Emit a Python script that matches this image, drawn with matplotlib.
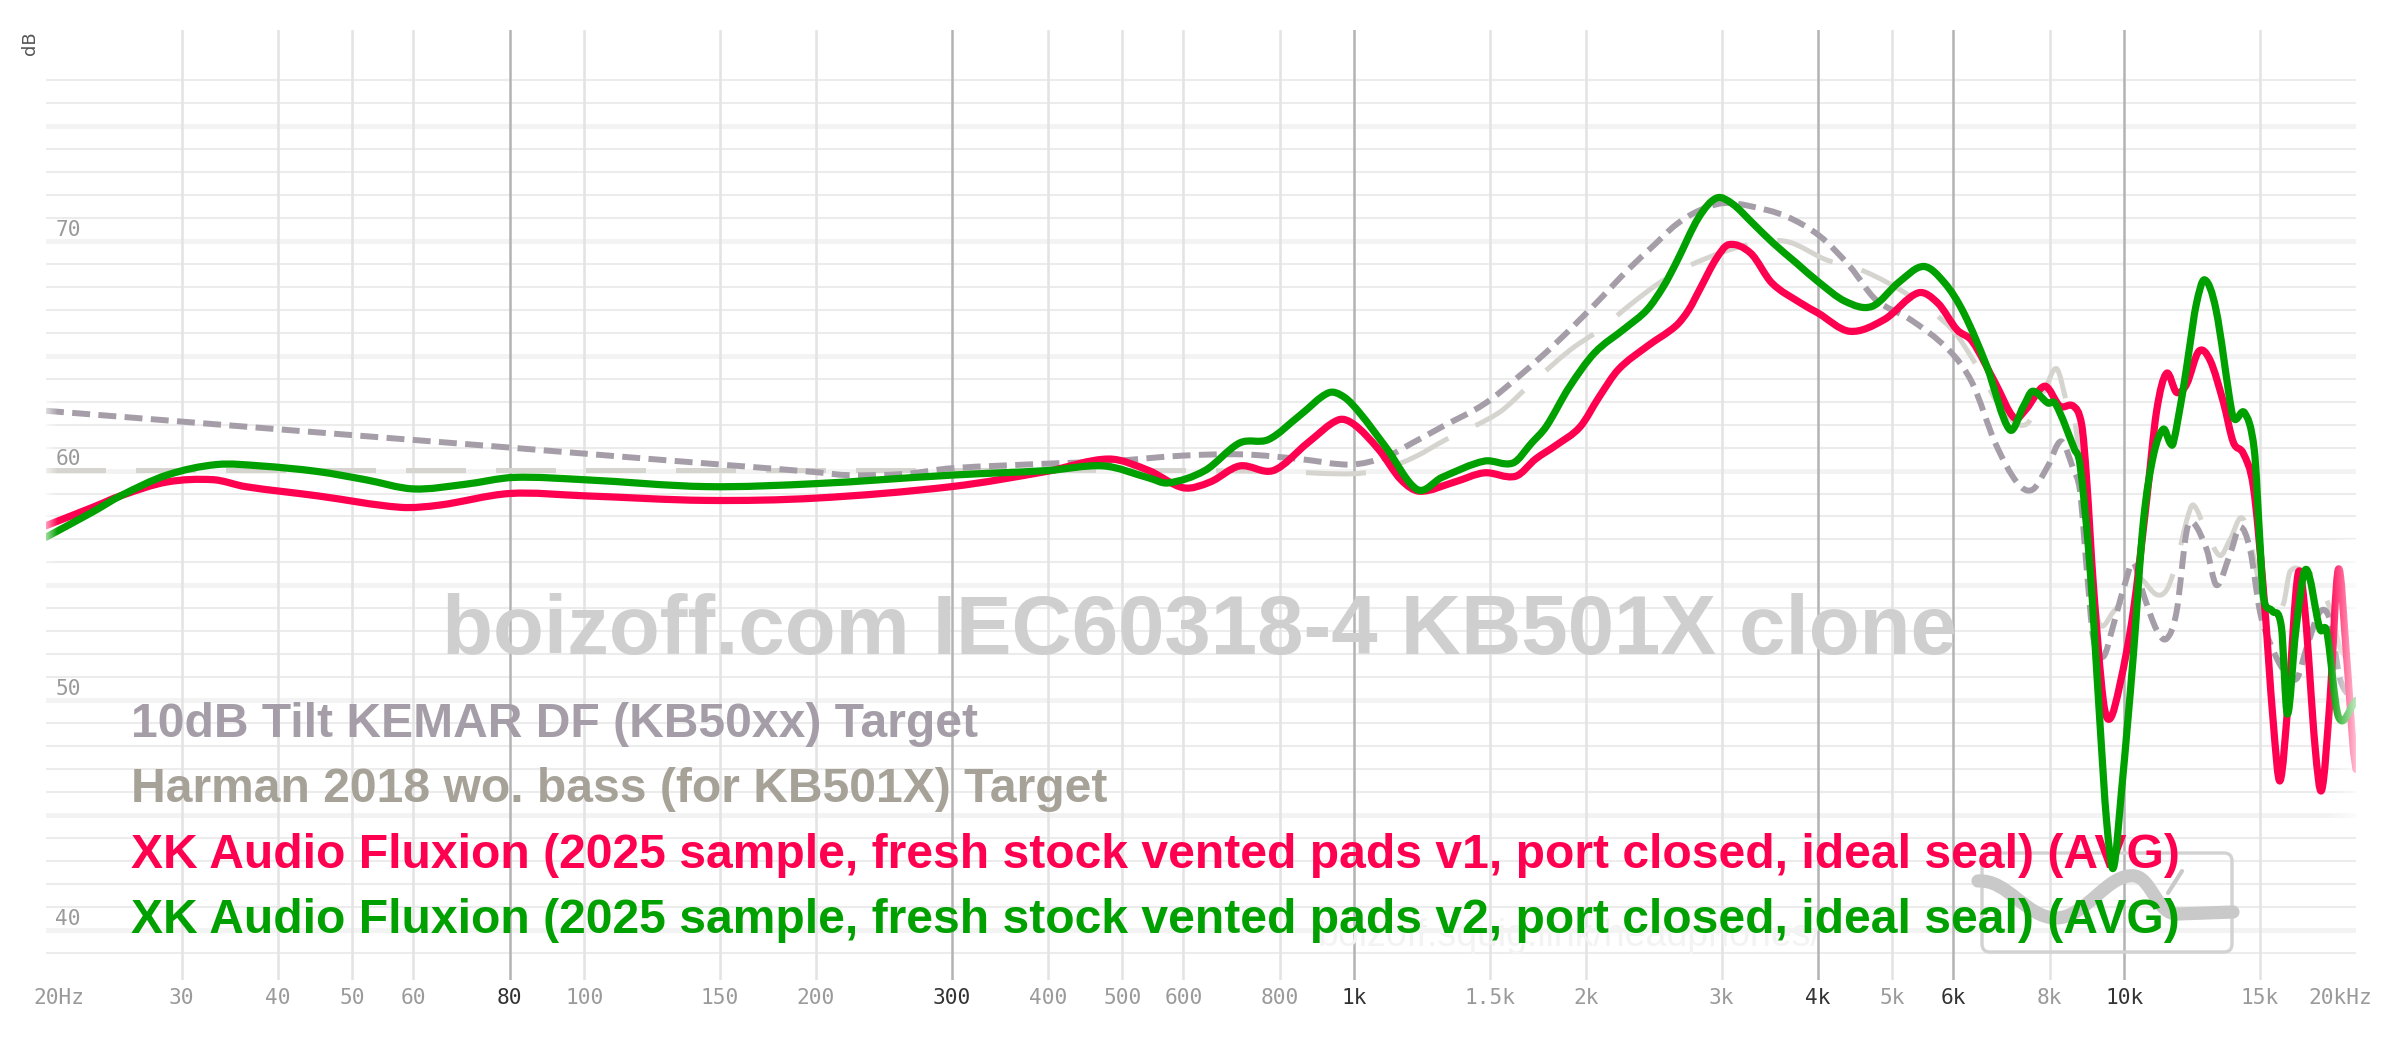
import numpy as np
import matplotlib
matplotlib.use("Agg")
import matplotlib.pyplot as plt
from matplotlib.transforms import Affine2D, offset_copy
from matplotlib.patches import FancyBboxPatch, PathPatch
from matplotlib.path import Path

# ---------------- data ----------------
tilt_f = [20, 30, 50, 80, 120, 160, 200, 220, 260, 300, 400, 480, 600, 720, 850, 990,
          1100, 1190, 1300, 1476, 1650, 1829, 2050, 2268, 2450, 2618, 2800, 3021, 3272,
          3640, 4024, 4403, 4760, 5276, 5913, 6349, 6800, 7265, 7603, 7958, 8283, 8591,
          8762, 8935, 9120, 9393, 9680, 9972, 10274, 10587, 11016, 11350, 11694, 12049,
          12294, 12795, 13183, 13725, 14143, 14569, 15010, 15466, 16096, 16748, 17256,
          17957, 18502, 19065, 19840, 20000]
tilt_db = [62.6, 62.13, 61.54, 61.0, 60.52, 60.19, 59.93, 59.8, 59.85, 60.1, 60.3, 60.4,
           60.65, 60.7, 60.5, 60.26, 60.6, 61.2, 61.9, 62.9, 64.2, 65.55, 67.2, 68.74,
           69.8, 70.7, 71.3, 71.64, 71.5, 71.06, 70.2, 68.88, 67.43, 66.57, 65.26, 63.81,
           61.2, 59.46, 59.17, 60.19, 61.27, 60.05, 59.09, 55.8, 52.7, 51.9, 53.27, 54.82,
           55.98, 54.63, 53.07, 52.68, 53.85, 57.34, 57.73, 56.57, 55.01, 56.37, 57.54,
           56.57, 53.85, 52.49, 51.33, 50.94, 52.3, 53.85, 53.5, 50.94, 50.0, 49.9]

harman_f = [20, 100, 300, 600, 800, 1000, 1100, 1200, 1316, 1540, 1700, 1910, 2100, 2268,
            2500, 2771, 3245, 3640, 4102, 4598, 5276, 5980, 6480, 6940, 7449, 7885, 8172,
            8429, 8590, 8935, 9120, 9301, 9680, 10000, 10274, 10587, 11016, 11350, 11694,
            12049, 12294, 12795, 13318, 13725, 14270, 15010, 15466, 16096, 16420, 17172,
            17694, 18502, 19065, 19840, 20000]
harman_db = [60.0, 60.0, 60.0, 60.0, 59.95, 59.86, 60.1, 60.6, 61.35, 62.51, 63.8, 65.26,
             66.2, 67.14, 68.2, 69.03, 69.83, 69.97, 69.17, 68.67, 67.58, 66.13, 64.39,
             62.65, 62.0, 63.52, 64.43, 62.94, 62.6, 57.73, 54.82, 53.27, 53.85, 54.5,
             55.5, 55.2, 54.6, 54.8, 56.0, 57.8, 58.5, 57.3, 56.3, 57.0, 57.9, 55.0, 53.6,
             54.2, 55.6, 55.6, 55.3, 54.0, 52.3, 51.5, 51.3]

v1_f = [20, 23, 25, 28.7, 33, 36.3, 45, 57.7, 65, 80, 100, 144, 200, 300, 400, 480, 541,
        600, 650, 710, 785, 870, 953, 1000, 1077, 1150, 1216, 1350, 1476, 1620, 1720, 1829,
        1965, 2080, 2204, 2400, 2618, 2720, 2812, 2950, 3065, 3272, 3487, 3800, 4000, 4400,
        4880, 5400, 5726, 6063, 6349, 6800, 7197, 7449, 7885, 8253, 8591, 8805, 8935, 9120,
        9393, 9584, 9874, 10274, 10693, 11016, 11350, 11694, 12049, 12500, 12927, 13453,
        13861, 14279, 14716, 15163, 15620, 15937, 16333, 16818, 17172, 17694, 18052, 18502,
        18972, 19445, 19826, 20000]
v1_db = [57.6, 58.4, 58.9, 59.5, 59.6, 59.3, 58.9, 58.4, 58.5, 59.0, 58.9, 58.7, 58.8,
         59.3, 59.97, 60.5, 60.0, 59.25, 59.5, 60.2, 60.0, 61.2, 62.2, 62.0, 60.9, 59.6,
         59.1, 59.5, 59.9, 59.75, 60.5, 61.1, 61.9, 63.2, 64.4, 65.4, 66.3, 67.0, 67.9,
         69.2, 69.83, 69.46, 68.16, 67.29, 66.86, 66.06, 66.57, 67.73, 67.29, 66.13, 65.62,
         63.81, 62.29, 62.65, 63.67, 62.8, 62.8, 62.0, 59.67, 55.0, 50.0, 49.2, 50.7, 53.85,
         58.7, 62.58, 64.23, 63.4, 63.75, 65.19, 64.8, 62.97, 61.22, 60.74, 59.28, 54.8,
         49.0, 46.5, 50.0, 55.5, 53.85, 48.0, 46.1, 50.0, 55.7, 51.9, 48.0, 47.0]

v2_f = [20, 23, 25, 28.7, 33.3, 38, 45, 52, 60, 70, 81, 100, 144, 200, 300, 400, 473, 541,
        573, 640, 710, 774, 850, 926, 970, 1017, 1100, 1208, 1300, 1476, 1608, 1700, 1777,
        1900, 2052, 2250, 2401, 2520, 2618, 2800, 2956, 3100, 3291, 3500, 3752, 4000, 4343,
        4703, 5100, 5490, 5846, 6189, 6630, 7099, 7400, 7603, 7958, 8144, 8621, 8762, 9027,
        9301, 9488, 9680, 9922, 10274, 10587, 10910, 11240, 11471, 11580, 11931, 12146,
        12400, 12714, 13159, 13779, 13932, 14333, 14753, 15000, 15163, 15555, 16000, 16290,
        16700, 17219, 17957, 18323, 18972, 19924, 20000]
v2_db = [57.1, 58.2, 58.9, 59.8, 60.26, 60.2, 59.96, 59.6, 59.2, 59.4, 59.7, 59.6, 59.3,
         59.43, 59.8, 60.0, 60.2, 59.68, 59.46, 60.0, 61.2, 61.35, 62.4, 63.38, 63.2, 62.5,
         61.0, 59.17, 59.7, 60.41, 60.33, 61.2, 61.93, 63.6, 65.12, 66.2, 67.0, 68.0, 69.03,
         71.0, 71.86, 71.6, 70.77, 69.9, 69.03, 68.23, 67.36, 67.14, 68.2, 68.88, 68.16,
         66.86, 64.54, 61.78, 62.8, 63.45, 62.94, 62.9, 60.91, 60.25, 55.79, 49.0, 44.73,
         42.7, 46.09, 51.91, 57.73, 60.64, 61.8, 61.2, 61.2, 63.55, 65.26, 67.2, 68.3, 67.0,
         62.65, 62.22, 62.51, 60.91, 57.0, 54.5, 53.9, 53.2, 49.4, 53.0, 55.7, 53.1, 53.0,
         49.3, 49.9, 50.0]

grid_freqs = [30, 40, 50, 60, 80, 100, 150, 200, 300, 400, 500, 600, 800, 1000, 1500, 2000,
              3000, 4000, 5000, 6000, 8000, 10000, 15000]
grid_labels = ["30", "40", "50", "60", "80", "100", "150", "200", "300", "400", "500", "600",
               "800", "1k", "1.5k", "2k", "3k", "4k", "5k", "6k", "8k", "10k", "15k"]
strong_freqs = [80, 300, 1000, 4000, 6000, 10000]
y_labels = [40, 50, 60, 70]

legend_texts = ["10dB Tilt KEMAR DF (KB50xx) Target",
                "Harman 2018 wo. bass (for KB501X) Target",
                "XK Audio Fluxion (2025 sample, fresh stock vented pads v1, port closed, ideal seal) (AVG)",
                "XK Audio Fluxion (2025 sample, fresh stock vented pads v2, port closed, ideal seal) (AVG)"]
watermark = "boizoff.com IEC60318-4 KB501X clone"

C_TILT = "#a59ea8"
C_HARM = "#d6d4cf"
C_HARM_TXT = "#a6a298"
C_RED = "#ff0050"
C_GREEN = "#00a000"

# ---------------- figure ----------------
W, H, DPI = 2400, 1038, 100
YLO, YHI = 37.83, 79.17
fig = plt.figure(figsize=(W / DPI, H / DPI), dpi=DPI)
fig.patch.set_facecolor("white")
ax = fig.add_axes([46 / W, 1 - 980 / H, 2310 / W, 950 / H])
ax.set_xscale("log")
ax.set_xlim(20, 20000)
ax.set_ylim(YLO, YHI)
ax.set_autoscale_on(False)
for s in ax.spines.values():
    s.set_visible(False)
ax.set_xticks([])
ax.set_yticks([])
ax.minorticks_off()
ax.tick_params(which="both", length=0, labelbottom=False, labelleft=False)

# pixel transform (top-left origin) for decorations
T = Affine2D().scale(1, -1).translate(0, H)

# horizontal grid
for db in range(39, 78):
    if db % 5 == 0:
        ax.axhline(db, color="#f3f3f3", lw=3.6, zorder=0)
    else:
        ax.axhline(db, color="#ececec", lw=1.5, zorder=0)

# vertical grid
for f in grid_freqs:
    strong = f in strong_freqs
    ax.axvline(f, color="#b3b3b3" if strong else "#e3e3e3", lw=1.8, zorder=0.5)

# x tick labels
TFS = 15.2
xt = ax.get_xaxis_transform()
for f, lab in zip(grid_freqs, grid_labels):
    strong = f in strong_freqs
    ax.text(f, -0.019, lab, transform=xt, ha="center", va="center",
            family="DejaVu Sans Mono", fontsize=TFS,
            color="#333333" if strong else "#9a9a9a", clip_on=False)
ax.text(20, -0.019, "20Hz", transform=offset_copy(xt, fig=fig, x=-13, y=0, units="dots"),
        ha="left", va="center", family="DejaVu Sans Mono", fontsize=TFS,
        color="#9a9a9a", clip_on=False)
ax.text(20000, -0.019, "20kHz", transform=offset_copy(xt, fig=fig, x=16, y=0, units="dots"),
        ha="right", va="center", family="DejaVu Sans Mono", fontsize=TFS,
        color="#9a9a9a", clip_on=False)

# y tick labels
yt = ax.get_yaxis_transform()
for v in y_labels:
    ax.text(0.004, v + 0.48, str(v), transform=yt, ha="left", va="center",
            family="DejaVu Sans Mono", fontsize=TFS, color="#9a9a9a", zorder=1)

fig.text(30 / W, 1 - 43 / H, "dB", rotation=90, ha="center", va="center",
         fontsize=13, color="#555555", family="DejaVu Sans")

# watermark
ax.text(1199 / W, 1 - 654 / H, watermark, transform=fig.transFigure, ha="center",
        va="baseline", family="Liberation Sans", fontweight="bold", fontsize=60,
        color="#cfcfcf", zorder=1)
ax.text(1318 / W, 1 - 946 / H, "boizoff.squig.link/headphones/", transform=fig.transFigure,
        ha="left", va="baseline", family="Liberation Sans", fontsize=27,
        color="#f3f3f3", zorder=1)

# logo
box = FancyBboxPatch((1982, 853), 250, 99, boxstyle="round,pad=0,rounding_size=8",
                     transform=T, fill=False, ec="#d2d2d2", lw=2.4, zorder=1.1)
ax.add_artist(box)
sq = Path([(1978, 881), (2008, 879), (2026, 918), (2056, 918),
           (2086, 918), (2108, 872), (2135, 876),
           (2152, 879), (2157, 915), (2178, 914),
           (2233, 912)],
          [Path.MOVETO, Path.CURVE4, Path.CURVE4, Path.CURVE4,
           Path.CURVE4, Path.CURVE4, Path.CURVE4,
           Path.CURVE4, Path.CURVE4, Path.CURVE4, Path.LINETO])
ax.add_artist(PathPatch(sq, transform=T, fill=False, ec="#c9c9c9", lw=9.5,
                        capstyle="round", joinstyle="round", zorder=1.2))
ax.add_artist(PathPatch(Path([(2168, 893), (2182, 871)]), transform=T, fill=False,
                        ec="#c9c9c9", lw=3, capstyle="round", zorder=1.2))

# legend texts
baselines = [737, 802, 868, 933]
colors = [C_TILT, C_HARM_TXT, C_RED, C_GREEN]
for txt, b, c in zip(legend_texts, baselines, colors):
    ax.text(131 / W, 1 - b / H, txt, transform=fig.transFigure, ha="left",
            va="baseline", family="Liberation Sans", fontweight="bold",
            fontsize=34.6, color=c, zorder=1.5)


# smooth curve through the read points (Hermite -> cubic Bezier in log-f space)
def smooth_path(freqs, vals):
    u = np.log10(np.asarray(freqs, float))
    v = np.asarray(vals, float)
    n = len(u)
    m = np.zeros(n)
    m[0] = (v[1] - v[0]) / (u[1] - u[0])
    m[-1] = (v[-1] - v[-2]) / (u[-1] - u[-2])
    for i in range(1, n - 1):
        m[i] = (v[i + 1] - v[i - 1]) / (u[i + 1] - u[i - 1])
    verts = [(10 ** u[0], v[0])]
    codes = [Path.MOVETO]
    for i in range(n - 1):
        h = u[i + 1] - u[i]
        verts += [(10 ** (u[i] + h / 3), v[i] + m[i] * h / 3),
                  (10 ** (u[i + 1] - h / 3), v[i + 1] - m[i + 1] * h / 3),
                  (10 ** u[i + 1], v[i + 1])]
        codes += [Path.CURVE4] * 3
    return Path(verts, codes)


def draw(freqs, vals, z, **kw):
    p = PathPatch(smooth_path(freqs, vals), fill=False, zorder=z, **kw)
    ax.add_patch(p)


draw(harman_f, harman_db, 2, ec=C_HARM, lw=3.6, linestyle=(0, (12, 6)),
     capstyle="butt", joinstyle="round")
draw(tilt_f, tilt_db, 2.1, ec=C_TILT, lw=4.3, linestyle=(0, (3.0, 1.4)),
     capstyle="butt", joinstyle="round")
draw(v1_f, v1_db, 3, ec=C_RED, lw=5.2, capstyle="round", joinstyle="round")
draw(v2_f, v2_db, 3.1, ec=C_GREEN, lw=5.2, capstyle="round", joinstyle="round")


# edge fades
def fade(x0, x1, y0, y1, rising):
    g = np.ones((1, 64, 4))
    a = np.linspace(0, 1, 64)
    g[0, :, 3] = a if rising else a[::-1]
    ax.imshow(g, extent=(x0, x1, y0, y1), transform=ax.transAxes, aspect="auto",
              interpolation="bilinear", zorder=4)


def ax_y(db):
    return (db - YLO) / (YHI - YLO)


fade((2328 - 46) / 2310, 1.004, ax_y(44.5), ax_y(57), True)
fade(-0.003, (58 - 46) / 2310, ax_y(56), ax_y(63.5), False)
ax.set_xlim(20, 20000)
ax.set_ylim(YLO, YHI)

fig.savefig("out.png", dpi=DPI, facecolor="white")
